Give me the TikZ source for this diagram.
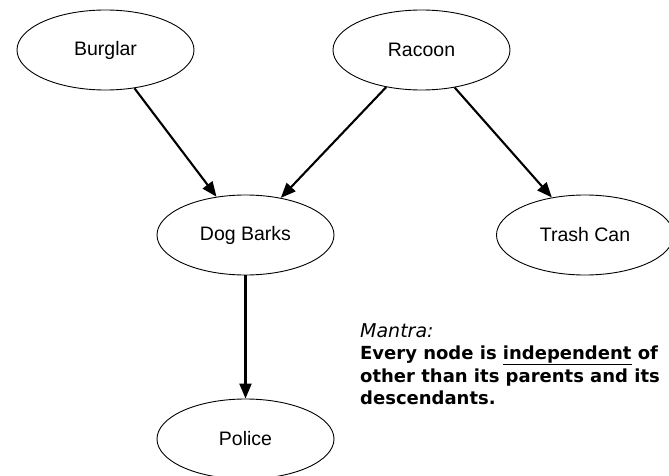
\documentclass[tikz,border=0pt]{standalone}
\usepackage{fontspec}
\setmainfont{Liberation Sans}
\newfontfamily\mantrafont{DejaVu Sans}
\usetikzlibrary{shapes.geometric,arrows.meta}
\begin{document}
\begin{tikzpicture}[x=1pt,y=-1pt,
  var/.style={ellipse, draw, line width=0.9pt, minimum width=177pt, minimum height=80pt,
    inner sep=0pt, font=\fontsize{19.5}{22}\selectfont},
  link/.style={line width=2.1pt, -{Triangle[length=15pt,width=12pt]}}]
\useasboundingbox (0,0) rectangle (669,476);
\clip (0,0) rectangle (669,476);
\node[var] (burglar) at (105.5,50) {Burglar};
\node[var] (racoon) at (421.5,50) {Racoon};
\node[var] (dog) at (245.5,235) {Dog Barks};
\node[var] (trash) at (585,235) {Trash Can};
\node[var] (police) at (245.5,439) {Police};
\draw[link] (burglar) -- (dog);
\draw[link] (racoon) -- (dog);
\draw[link] (racoon) -- (trash);
\draw[link] (dog) -- (police);
\node[anchor=base west, align=left, inner sep=0pt,
  font=\mantrafont\fontsize{18}{22.5}\selectfont] (mantra) at (360,404.5)
  {{\fontsize{19}{22.5}\selectfont\itshape Mantra:}\\
   \textbf{Every node is \underline{independent} of}\\
   \textbf{other than its parents and its}\\
   \textbf{descendants.}};
\end{tikzpicture}
\end{document}
